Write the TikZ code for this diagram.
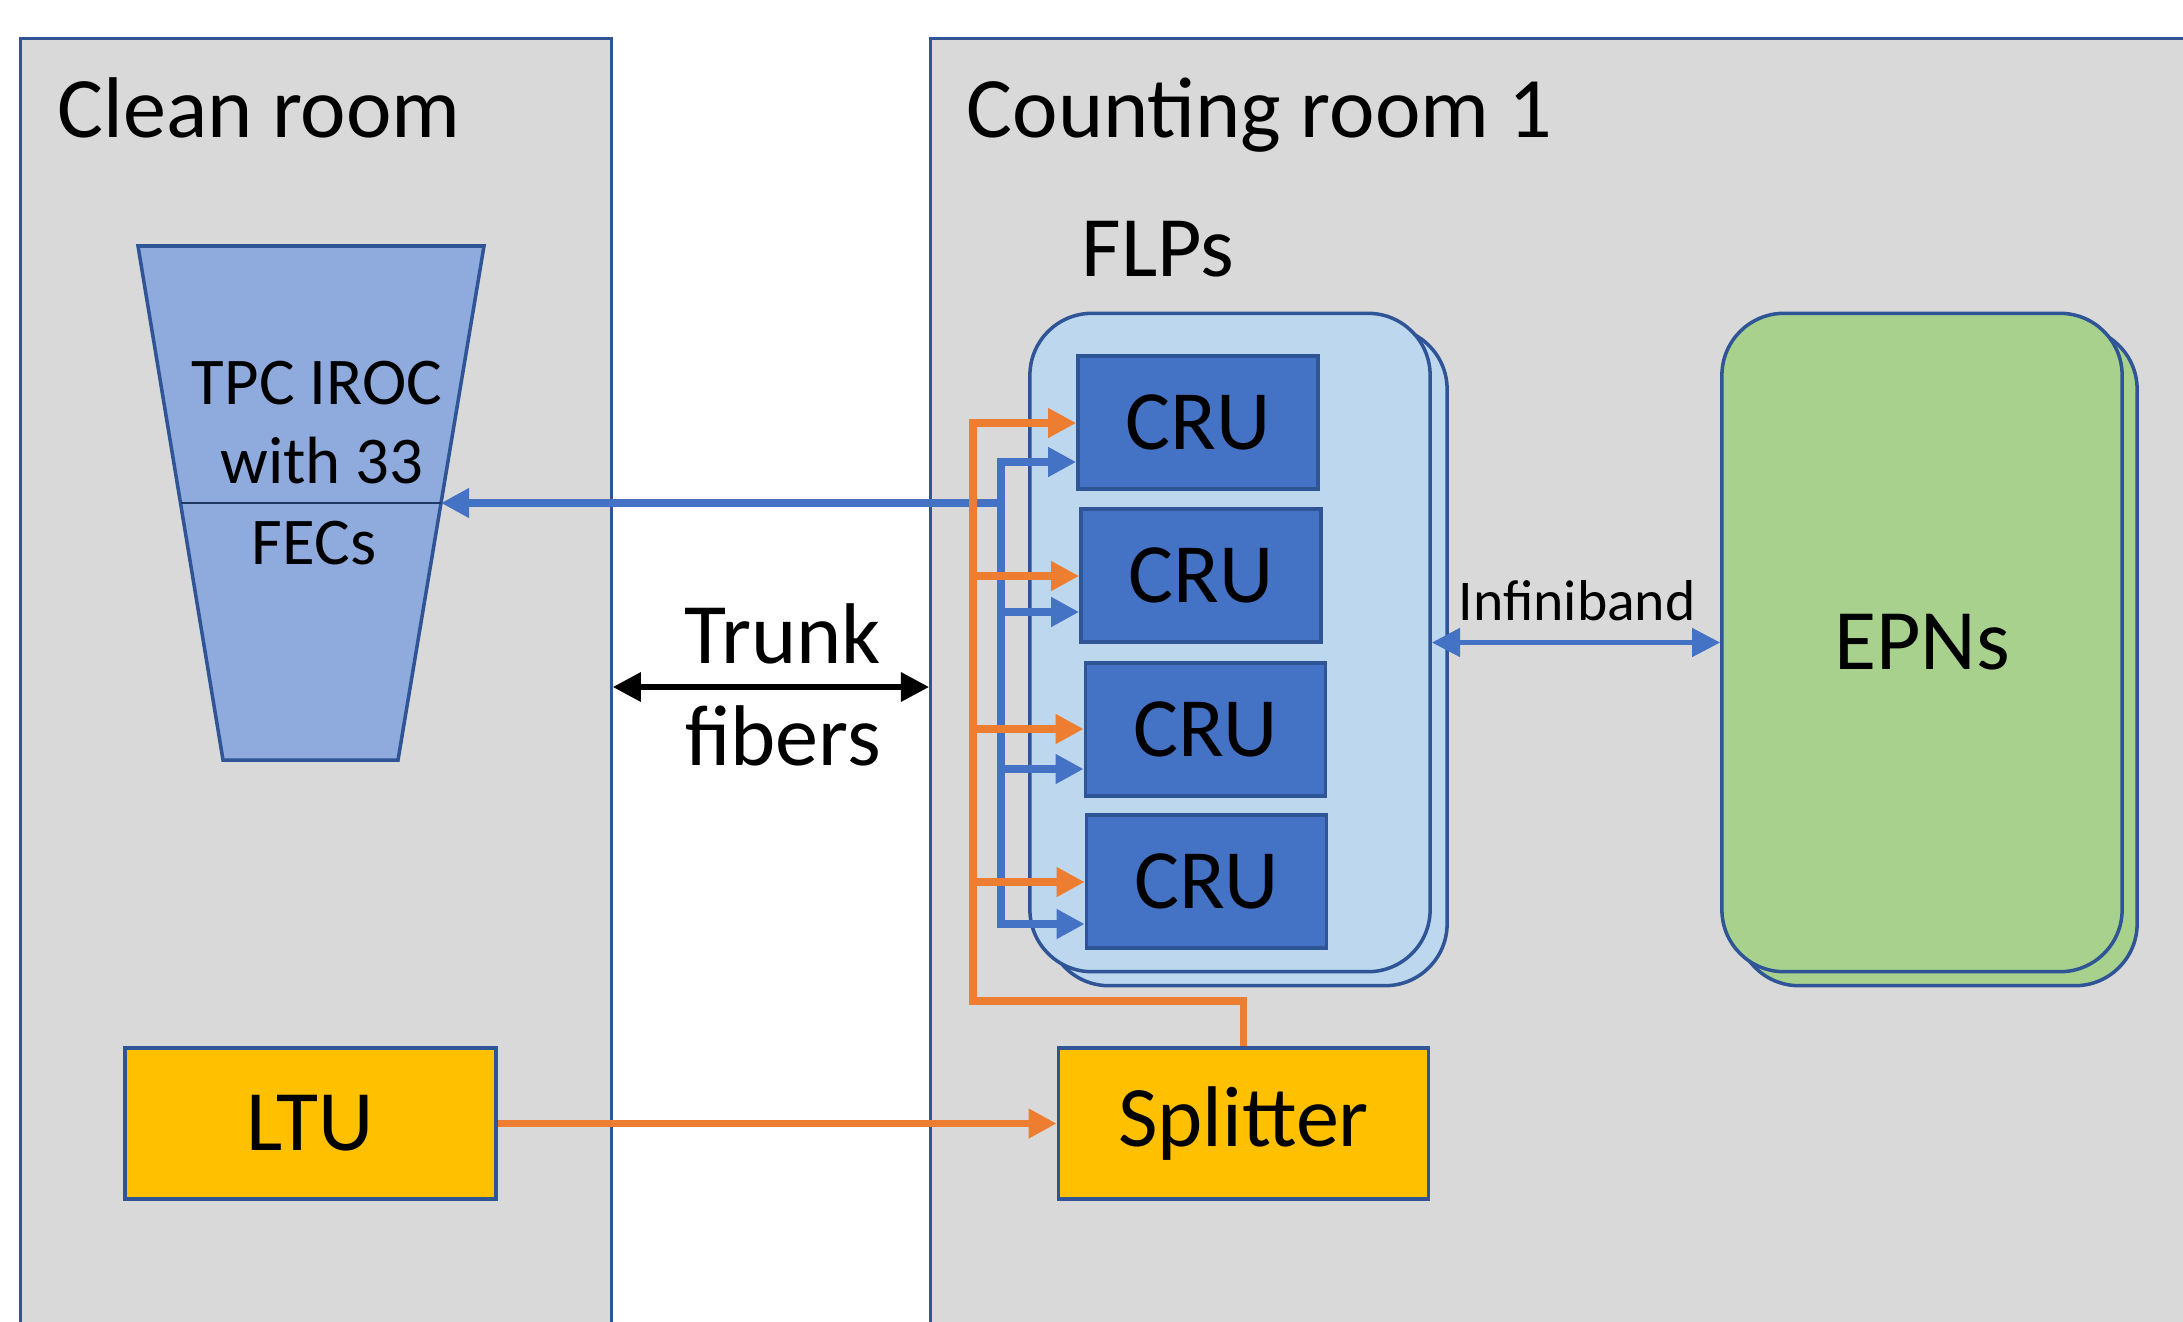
\documentclass[tikz,border=0pt]{standalone}
\usepackage{fontspec}
\setmainfont{Carlito}
\usetikzlibrary{arrows.meta}

\definecolor{panelgray}{HTML}{D9D9D9}
\definecolor{edgeblue}{HTML}{2F5597}
\definecolor{ironblue}{HTML}{8FAADC}
\definecolor{flpblue}{HTML}{BDD7EE}
\definecolor{crublue}{HTML}{4472C4}
\definecolor{epngreen}{HTML}{A9D18E}
\definecolor{boxyellow}{HTML}{FFC000}
\definecolor{sigorange}{HTML}{ED7D31}
\definecolor{sigblue}{HTML}{4472C4}
\definecolor{navyline}{HTML}{203864}

\begin{document}
\begin{tikzpicture}[x=0.01cm,y=-0.01cm,
  panel/.style={fill=panelgray,draw=edgeblue,line width=0.9pt,inner sep=0pt},
  bigtxt/.style={font=\fontsize{24.5}{29}\selectfont},
  lbl/.style={inner sep=0pt},
  crubox/.style={draw=edgeblue,fill=crublue,line width=1pt,minimum width=2.4cm,
    minimum height=1.33cm,inner sep=0pt,font=\fontsize{24}{29}\selectfont},
  rack/.style={draw=edgeblue,line width=1pt,rounded corners=0.62cm,
    minimum width=4cm,minimum height=6.58cm,inner sep=0pt},
  ybox/.style={draw=edgeblue,fill=boxyellow,line width=1pt,minimum width=3.7cm,
    minimum height=1.51cm,inner sep=0pt,bigtxt},
  feed/.style={-{Triangle[length=8pt,width=8pt]}},
  duplex/.style={{Triangle[length=8pt,width=8pt]}-{Triangle[length=8pt,width=8pt]}},
  oline/.style={draw=sigorange,line width=2.1pt},
  bline/.style={draw=sigblue,line width=2.1pt},
]
\clip (0,0) rectangle (2183,1321);
\fill[white] (0,0) rectangle (2183,1321);

% rooms
\node[panel,minimum width=5.9cm,minimum height=13.3cm] (clean) at (316,704) {};
\node[panel,minimum width=12.8cm,minimum height=13.3cm] (counting) at (1571,704) {};
\node[lbl,bigtxt,anchor=base west] (cleanlbl) at (57,137) {Clean room};
\node[lbl,bigtxt,anchor=base west] (countlbl) at (966,137) {Counting room 1};

% readout chamber
\draw[fill=ironblue,draw=edgeblue,line width=1pt]
  (138,246) -- (484,246) -- (398,760) -- (223,760) -- cycle;
\draw[navyline,line width=0.7pt] (181,503) -- (441,503);
\coordinate (iroc) at (441,503);
\node[lbl,font=\fontsize{19}{23}\selectfont,anchor=base] (iroc1) at (317,404) {TPC IROC};
\node[lbl,font=\fontsize{19}{23}\selectfont,anchor=base] (iroc2) at (322,483) {with 33};
\node[lbl,font=\fontsize{19}{23}\selectfont,anchor=base] (iroc3) at (314,564) {FECs};

% trunk fibers
\coordinate (trunkmid) at (771,687);
\draw[duplex,black,line width=1.7pt] (clean.east |- trunkmid) -- (counting.west |- trunkmid);
\node[lbl,bigtxt,anchor=base] (trunk1) at (783,663) {Trunk};
\node[lbl,bigtxt,anchor=base] (trunk2) at (783,765) {fibers};

% FLPs
\node[lbl,bigtxt,anchor=base west] (flplbl) at (1081,276) {FLPs};
\node[rack,fill=flpblue] (flpback) at (1247,656.5) {};
\node[rack,fill=flpblue] (flp) at (1230,642.5) {};
\node[crubox] (cru1) at (1198,422.5) {CRU};
\node[crubox] (cru2) at (1201,575.5) {CRU};
\node[crubox] (cru3) at (1205.5,729.5) {CRU};
\node[crubox] (cru4) at (1206.5,881.5) {CRU};

% EPNs
\node[rack,fill=epngreen] (epnback) at (1937,656.5) {};
\node[rack,fill=epngreen,bigtxt] (epn) at (1922,642.5) {EPNs};

\draw[duplex,sigblue,line width=1.3pt] (flp.east) -- (epn.west);
\node[lbl,font=\fontsize{16.4}{20}\selectfont,anchor=base] (iblbl) at (1577,620) {Infiniband};

% trigger boxes
\node[ybox,minimum width=3.71cm] (ltu) at (310.5,1123.5) {LTU};
\node[ybox] (spl) at (1243.5,1123.5) {Splitter};

% blue distribution to the CRUs and towards the chamber
\coordinate (b1) at (1001,462);
\coordinate (b2) at (1001,612);
\coordinate (b3) at (1001,769);
\coordinate (b4) at (1001,924);
\coordinate (bsplit) at (1001,503);
\draw[bline,duplex] (cru4.west |- b4) -- (b4) -- (b1) -- (cru1.west |- b1);
\draw[bline,feed] (b2) -- (cru2.west |- b2);
\draw[bline,feed] (b3) -- (cru3.west |- b3);
\draw[bline,feed] (bsplit) -- (iroc);

% orange trigger distribution
\coordinate (o1) at (973,423);
\coordinate (o2) at (973,576);
\coordinate (o3) at (973,729);
\coordinate (o4) at (973,882);
\coordinate (ojoin) at (973,1001);
\draw[oline,feed] (spl.north) |- (ojoin) -- (o1) -- (cru1.west |- o1);
\draw[oline,feed] (o2) -- (cru2.west |- o2);
\draw[oline,feed] (o3) -- (cru3.west |- o3);
\draw[oline,feed] (o4) -- (cru4.west |- o4);
\draw[oline,feed] (ltu.east) -- (spl.west);
\end{tikzpicture}
\end{document}
